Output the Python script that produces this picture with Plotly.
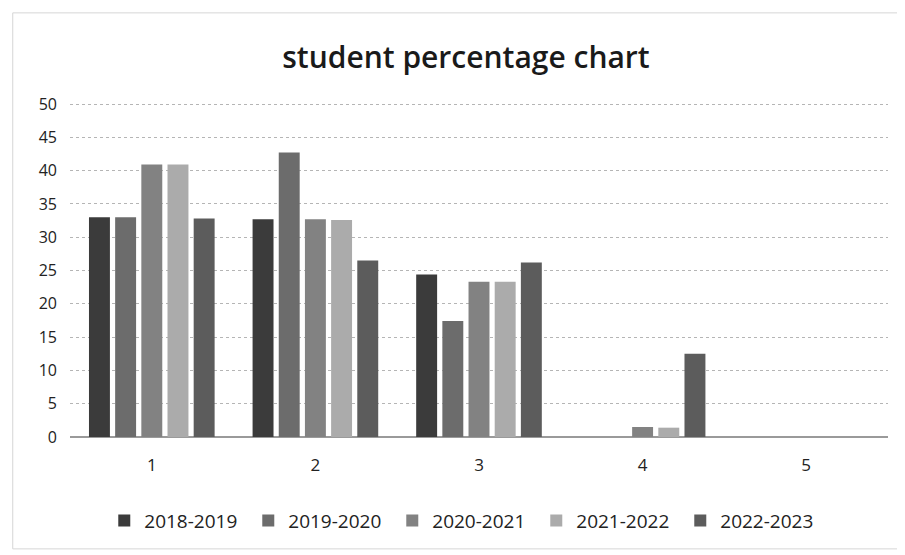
import plotly.graph_objects as go

categories = ["1", "2", "3", "4", "5"]
series_names = ["2018-2019", "2019-2020", "2020-2021", "2021-2022", "2022-2023"]
s2018 = [33, 32.7, 24.4, 0, 0]
s2019 = [33, 42.7, 17.4, 0, 0]
s2020 = [40.9, 32.7, 23.3, 1.5, 0]
s2021 = [40.9, 32.6, 23.3, 1.4, 0]
s2022 = [32.8, 26.5, 26.2, 12.5, 0]
colors = ["#3b3b3b", "#6c6c6c", "#828282", "#ababab", "#5c5c5c"]
y_ticks = [0, 5, 10, 15, 20, 25, 30, 35, 40, 45, 50]

values = [s2018, s2019, s2020, s2021, s2022]

fig = go.Figure()
for name, vals, col in zip(series_names, values, colors):
    fig.add_trace(go.Bar(x=categories, y=vals, name=name,
                         marker=dict(color=col, line=dict(width=0))))

fig.update_layout(
    width=905, height=555,
    paper_bgcolor="white", plot_bgcolor="white",
    barmode="group", bargap=0.2, bargroupgap=0.2,
    margin=dict(l=62, r=25, t=94, b=126),
    title=dict(text="student percentage chart", x=0.506, xanchor="center",
               y=0.91, yanchor="middle",
               font=dict(family="Open Sans", size=30, color="#1a1a1a", weight=600)),
    font=dict(family="Open Sans", color="#222222"),
    xaxis=dict(type="category", range=[-0.5, 4.5], showgrid=False,
               tickfont=dict(size=17), ticks="", showline=False,
               ticklabelstandoff=16),
    yaxis=dict(range=[0, 50.3], tickvals=y_ticks, showgrid=True,
               gridcolor="#b5b5b5", gridwidth=1, griddash="dot",
               tickfont=dict(size=16), zeroline=True, zerolinecolor="#9a9a9a",
               zerolinewidth=1.5, ticklabelstandoff=12),
    legend=dict(orientation="h", x=0.482, xanchor="center", y=-0.25, yanchor="middle",
                font=dict(size=19), itemwidth=30, traceorder="normal",
                entrywidth=99, entrywidthmode="pixels"),
    shapes=[dict(type="rect", xref="paper", yref="paper", x0=-0.07, x1=1.015, y0=-0.334, y1=1.266,
                 line=dict(color="#d6d6d6", width=1))],
)

fig.write_html("out.html")
